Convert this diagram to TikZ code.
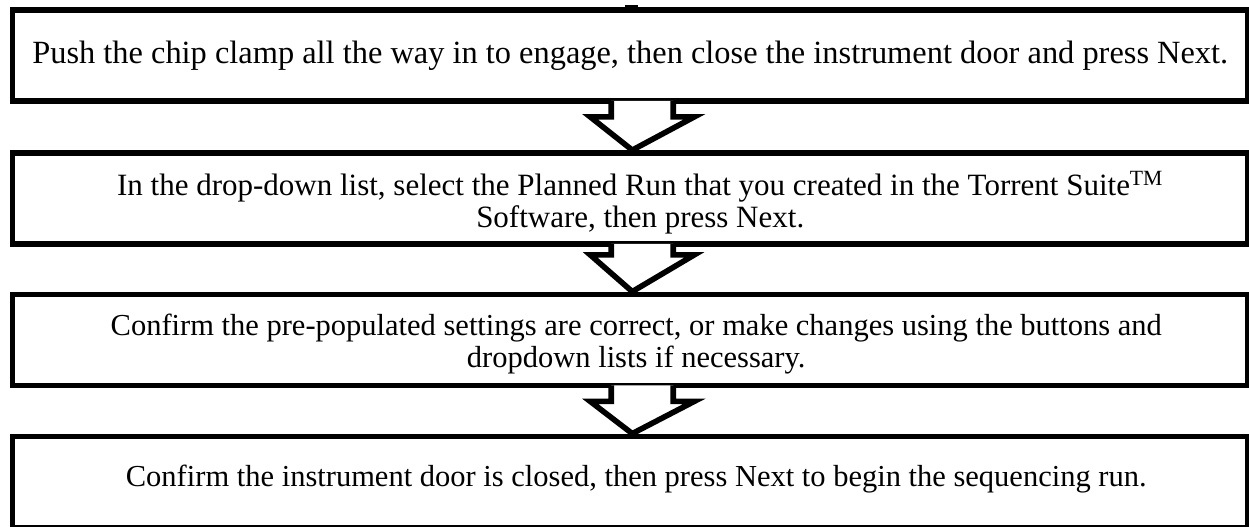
\documentclass[tikz,border=0pt]{standalone}
\usepackage{fontspec}
\setmainfont{Liberation Serif}
\usepackage{tikz}
\usetikzlibrary{positioning, calc}

\begin{document}
\begin{tikzpicture}[
    x = 0.5pt, y = -0.5pt, align = center,
    stepbox/.style = {rectangle, draw, line width = 2.9pt, inner sep = 0pt,
                      minimum width = 617.75pt, minimum height = 45.5pt},
    steptext/.style = {inner sep = 0pt, font = \fontsize{15.25}{16}\selectfont},
    hollow/.style = {draw, fill = white, line width = 2.8pt, line join = miter},
    ]
    \useasboundingbox (0,0) rectangle (1249,526);

    % boxes
    \node [stepbox] (push)    at (630.25,55.5)  {};
    \node [stepbox] (select)  at (630.25,198.5) {};
    \node [stepbox] (confirm) at (630.25,340)   {};
    \node [stepbox] (begin)   at (630.25,482)   {};

    % texts
    \node [steptext, font = \fontsize{16.2}{16}\selectfont] (pushtext) at (push.center) {Push the chip clamp all the way in to engage, then close the instrument door and press Next.};
    \node [steptext, font = \fontsize{15.5}{16}\selectfont] (selecttext) at ([shift={(10,4)}]select.center) {In the drop-down list, select the Planned Run that you created in the Torrent Suite\textsuperscript{TM}\\Software, then press Next.};
    \node [steptext] (confirmtext) at ([shift={(6,4)}]confirm.center) {Confirm the pre-populated settings are correct, or make changes using the buttons and\\dropdown lists if necessary.};
    \node [steptext] (begintext)   at ([shift={(6,-3)}]begin.center)  {Confirm the instrument door is closed, then press Next to begin the sequencing run.};

    % small stub above the first box
    \fill (625,5) rectangle (638,9);

    % draw block arrows
    \foreach \from/\to in {push/select, confirm/begin}
        \draw [hollow] ($(\from.south)+(-19,-3)$) -- ++(0,16) -- ++(-21,0)
            -- ($(\to.north)+(2,0)$) -- ($(\from.south)+(64,13)$) -- ++(-21,0) -- ++(0,-16);
    \draw [hollow] ($(select.south)+(-19,-3)$) -- ++(0,11) -- ++(-21,0)
        -- ($(confirm.north)+(2,0)$) -- ($(select.south)+(64,8)$) -- ++(-21,0) -- ++(0,-11);
\end{tikzpicture}
\end{document}
